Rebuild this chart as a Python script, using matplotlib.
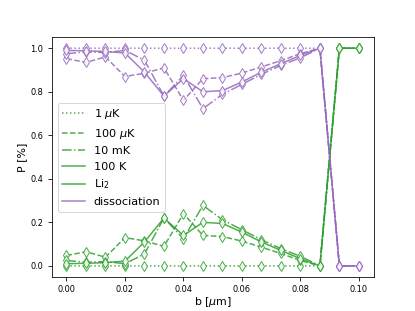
import numpy as np
import matplotlib
matplotlib.use("Agg")
import matplotlib.pyplot as plt
from matplotlib.lines import Line2D

b = np.linspace(0, 0.1, 16)

temps = ["1 $\\mu$K", "100 $\\mu$K", "10 mK", "100 K"]
styles = [":", "--", "-.", "-"]

li2_1uK = [0, 0, 0, 0, 0, 0, 0, 0, 0, 0, 0, 0, 0, 0, 1, 1]
li2_100uK = [0.048, 0.065, 0.04, 0.13, 0.115, 0.09, 0.24, 0.14, 0.135, 0.114, 0.086, 0.057, 0.025, 0, 1, 1]
li2_10mK = [0.025, 0.017, 0.02, 0.01, 0.055, 0.22, 0.125, 0.278, 0.212, 0.166, 0.12, 0.079, 0.044, 0, 1, 1]
li2_100K = [0.01, 0.012, 0.015, 0.022, 0.11, 0.22, 0.14, 0.2, 0.195, 0.155, 0.11, 0.071, 0.033, 0, 1, 1]

dis_1uK = [1, 1, 1, 1, 1, 1, 1, 1, 1, 1, 1, 1, 1, 1, 0, 0]
dis_100uK = [0.952, 0.935, 0.96, 0.87, 0.885, 0.91, 0.76, 0.86, 0.865, 0.886, 0.914, 0.943, 0.975, 1, 0, 0]
dis_10mK = [0.975, 0.983, 0.98, 0.99, 0.945, 0.78, 0.875, 0.722, 0.788, 0.834, 0.88, 0.921, 0.956, 1, 0, 0]
dis_100K = [0.99, 0.988, 0.985, 0.978, 0.89, 0.78, 0.86, 0.8, 0.805, 0.845, 0.89, 0.929, 0.967, 1, 0, 0]

li2 = [li2_1uK, li2_100uK, li2_10mK, li2_100K]
dis = [dis_1uK, dis_100uK, dis_10mK, dis_100K]

green = "#2ca02c"
purple = "#9467bd"

DPI = 72
fig = plt.figure(figsize=(415/DPI, 311/DPI), dpi=DPI)
ax = fig.add_subplot(111)
for g, d, ls in zip(li2, dis, styles):
    ax.plot(b, g, color=green, ls=ls, lw=1.5, marker="d", ms=7.5, mfc="white", alpha=0.85)
    ax.plot(b, d, color=purple, ls=ls, lw=1.5, marker="d", ms=7.5, mfc="white", alpha=0.85)

handles = [Line2D([], [], color=green, ls=ls, lw=1.5, alpha=0.85) for ls in styles]
handles.append(Line2D([], [], color=green, ls="-", lw=1.5, alpha=0.85))
handles.append(Line2D([], [], color=purple, ls="-", lw=1.5, alpha=0.85))
labels = temps + ["Li$_2$", "dissociation"]
ax.legend(handles, labels, loc="center left", fontsize=11.3)
ax.set_xlabel("b [$\\mu$m]", fontsize=11, labelpad=1)
ax.set_ylabel("P [%]", fontsize=11, labelpad=3)
ax.set_xticks([0.0, 0.02, 0.04, 0.06, 0.08, 0.10])
ax.tick_params(labelsize=8.3, length=4, pad=4.5)
fig.savefig("out.png", dpi=DPI)
